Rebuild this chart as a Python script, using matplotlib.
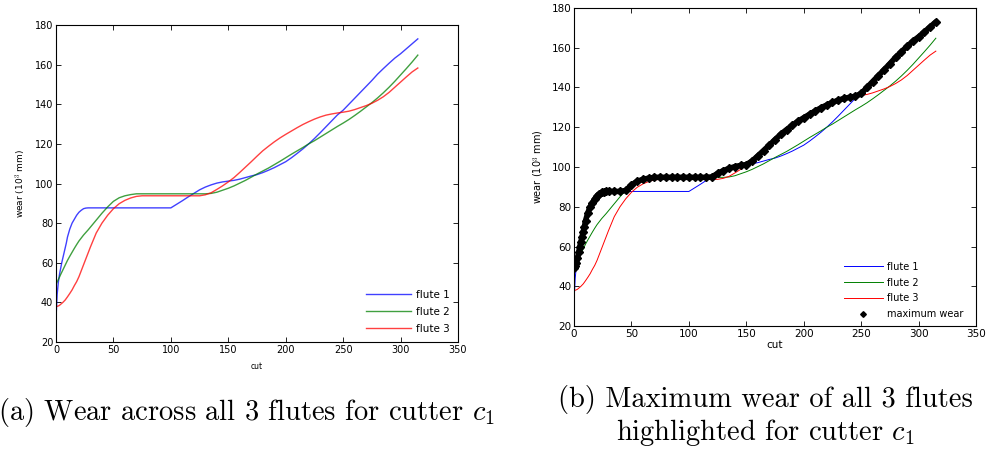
import numpy as np
import matplotlib
matplotlib.use("Agg")
import matplotlib.pyplot as plt

plt.rcParams["font.family"] = ["DejaVu Sans"]
plt.rcParams["mathtext.fontset"] = "cm"

# cut values at which the curves were read
cut = [0, 1, 2, 3, 4, 5, 6, 7, 8, 9, 10, 12, 14, 16, 18, 20, 22, 24, 26, 28, 30,
       35, 40, 45, 50, 55, 60, 65, 70, 75, 80, 85, 90, 95, 100, 105, 110, 115, 120,
       125, 130, 135, 140, 145, 150, 155, 160, 165, 170, 175, 180, 185, 190, 195,
       200, 205, 210, 215, 220, 225, 230, 235, 240, 245, 250, 255, 260, 265, 270,
       275, 280, 285, 290, 295, 300, 305, 310, 315]

flute1 = [32, 44, 50, 54, 57, 60, 62.5, 65, 67.5, 70, 73, 77, 80, 82, 84, 85.5, 86.5,
          87.3, 87.6, 87.7, 87.7, 87.7, 87.7, 87.7, 87.7, 87.7, 87.7, 87.7, 87.7, 87.7,
          87.7, 87.7, 87.7, 87.7, 87.7, 89.5, 91.3, 93.2, 95, 96.8, 98.2, 99.3, 100.2,
          100.8, 101.2, 101.6, 102.2, 103, 103.8, 104.5, 105.5, 106.7, 108, 109.5, 111,
          113, 115.2, 117.5, 120, 122.7, 125.6, 128.6, 131.6, 134.6, 137, 140, 143, 146,
          149, 152, 155.2, 158, 160.7, 163.3, 165.5, 168, 170.5, 173]

flute2 = [49, 50.3, 51.5, 52.7, 54, 55.2, 56.4, 57.6, 58.8, 60, 61.2, 63.3, 65.3, 67.3,
          69.2, 71, 72.5, 74, 75.3, 76.6, 78, 81.5, 85, 88.2, 91, 92.8, 93.8, 94.4, 94.8,
          94.8, 94.8, 94.8, 94.8, 94.8, 94.8, 94.8, 94.8, 94.8, 94.8, 94.8, 94.8, 95,
          95.6, 96.6, 97.6, 98.8, 100.2, 101.6, 103.2, 104.8, 106.3, 107.8, 109.5, 111.2,
          113, 114.8, 116.5, 118.2, 120, 121.6, 123.4, 125.2, 127, 128.8, 130.5, 132.3,
          134.3, 136.4, 138.6, 140.8, 143.2, 145.8, 148.6, 151.6, 154.8, 158, 161.3, 164.8]

flute3 = [38, 38, 38.2, 38.5, 39, 39.5, 40, 40.6, 41.2, 42, 42.8, 44.5, 46.3, 48.5, 50.5,
          53, 56, 59, 62, 65, 68, 75, 80, 84, 87.3, 89.8, 91.5, 92.7, 93.5, 93.8, 93.8,
          93.8, 93.8, 93.8, 93.8, 93.8, 93.8, 93.8, 93.8, 93.8, 94.3, 95.3, 97, 98.8,
          100.8, 103, 105.6, 108.3, 111, 113.8, 116.5, 118.8, 121, 123, 124.8, 126.5,
          128.2, 129.8, 131.2, 132.5, 133.6, 134.5, 135.1, 135.6, 136, 136.5, 137.3,
          138.3, 139.3, 140.5, 142, 143.8, 146, 148.6, 151.2, 153.8, 156.3, 158.3]

labels = ["flute 1", "flute 2", "flute 3"]
colors = ["#0000ff", "#008000", "#ff0000"]
caption_a = r"(a) Wear across all 3 flutes for cutter $c_1$"
caption_b = "(b) Maximum wear of all 3 flutes\nhighlighted for cutter $c_1$"

max_wear = np.maximum.reduce([flute1, flute2, flute3])


def style(ax, fs):
    ax.set_xlim(0, 350)
    ax.set_ylim(20, 180)
    ax.set_xticks(range(0, 351, 50))
    ax.set_yticks(range(20, 181, 20))
    ax.tick_params(direction="in", top=True, right=True, length=3.5, width=0.6,
                   labelsize=fs, pad=2)
    for s in ax.spines.values():
        s.set_linewidth(0.8)


fig = plt.figure(figsize=(9.86, 4.54), dpi=100)

# (a)
ax1 = fig.add_axes([0.0568, 0.2467, 0.4077, 0.6982])
for y, lab, c in zip([flute1, flute2, flute3], labels, colors):
    ax1.plot(cut, y, color=c, lw=1.0, alpha=0.75, label=lab)
style(ax1, 7)
ax1.set_xlabel("cut", fontsize=5.5, labelpad=5)
ax1.set_ylabel("wear (10$^3$ mm)", fontsize=6.5, labelpad=5)
ax1.legend(loc="lower right", frameon=False, fontsize=7.5, handlelength=4.3,
           handletextpad=0.5, labelspacing=0.65, borderaxespad=0.4)

# (b)
ax2 = fig.add_axes([0.5822, 0.2819, 0.4077, 0.7005])
for y, lab, c in zip([flute1, flute2, flute3], labels, colors):
    ax2.plot(cut, y, color=c, lw=0.7, label=lab)
ax2.plot(cut, max_wear, "-", color="black", lw=4.0, solid_capstyle="round")
ax2.plot(cut, max_wear, "D", color="black", ms=3.6, mec="black",
         label="maximum wear")
style(ax2, 7.5)
ax2.set_xlabel("cut", fontsize=7.5, labelpad=1)
ax2.set_ylabel("wear (10$^3$ mm)", fontsize=7, labelpad=4)
ax2.legend(loc="lower right", frameon=False, fontsize=7, handlelength=4,
           handletextpad=0.4, labelspacing=0.6, borderaxespad=0.3,
           markerscale=0.8, bbox_to_anchor=(0.985, 0.0))

fig.text(0.25, 0.092, caption_a, ha="center", va="center", fontsize=20.5,
         fontfamily="cmr10")
fig.text(0.776, 0.082, caption_b, ha="center", va="center", fontsize=20.5,
         fontfamily="cmr10", linespacing=1.15)

fig.savefig("out.png", dpi=100)
